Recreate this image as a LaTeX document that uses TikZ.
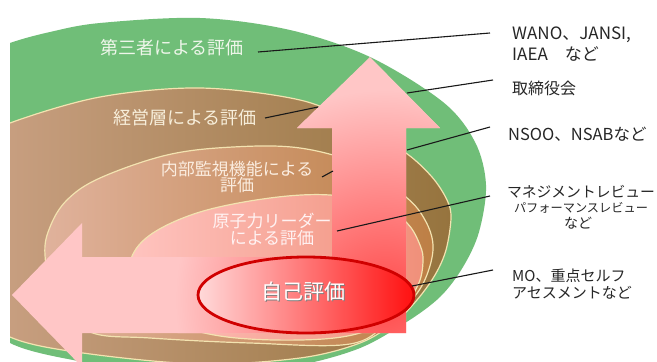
\documentclass[tikz,border=0pt]{standalone}
\usepackage{fontspec}
\setmainfont{Noto Sans CJK JP}
\definecolor{grn}{HTML}{70BE78}
\definecolor{brL}{HTML}{CFA58A}
\definecolor{brR}{HTML}{96743E}
\definecolor{mdL}{HTML}{E0B29C}
\definecolor{mdR}{HTML}{BD7F45}
\definecolor{pkL}{HTML}{FFC4C0}
\definecolor{pkR}{HTML}{F0907A}
\definecolor{cream}{HTML}{F3E3B0}
\definecolor{pinkA}{HTML}{FFC6C6}
\definecolor{redA}{HTML}{FF4A4A}
\definecolor{rL}{HTML}{FFDADA}
\definecolor{rR}{HTML}{FF1010}
\definecolor{rO}{HTML}{D00000}
\definecolor{txG}{HTML}{EEF6EA}
\definecolor{txB}{HTML}{F7EEDA}
\definecolor{txM}{HTML}{FBEDE0}
\definecolor{txP}{HTML}{FFF2F2}
\begin{document}
\begin{tikzpicture}[x=1pt,y=-1pt,
  ring/.style={draw=cream, line width=1.2pt},
  lead/.style={draw=black!90, line width=1.1pt},
  intext/.style={inner sep=0pt, align=center},
  rlabel/.style={inner sep=0pt, text=black!85, align=left, anchor=west}]
\useasboundingbox (0,0) rectangle (657,362);
\fill[white] (0,0) rectangle (657,362);
\begin{scope}
\clip (10,0) rectangle (657,362);
% outer green
\fill[grn] plot[smooth cycle, tension=0.55] coordinates {
 (-30,60) (10,43) (50,32) (100,23) (200,18) (290,30) (370,57) (443,102)
 (475,142) (486,185) (479,232) (463,267) (440,297) (405,323) (355,350)
 (280,368) (160,374) (83,362) (10,343) (-40,300) (-60,180)};
% brown
\path[ring, left color=brL, right color=brR] plot[smooth cycle, tension=0.55] coordinates {
 (-30,145) (10,123) (100,97) (200,88) (300,100) (360,125) (406,153) (432,177)
 (447,200) (451,218) (446,250) (435,275) (417,300) (395,322) (360,343)
 (300,358) (200,364) (83,353) (10,337) (-40,300) (-60,220)};
% internal monitoring
\path[ring, left color=mdL, right color=mdR] plot[smooth cycle, tension=0.6] coordinates {
 (45,255) (50,227) (67,200) (100,178) (167,155) (233,147) (300,148) (360,165)
 (406,197) (425,220) (433,245) (428,272) (415,296) (390,320) (350,344)
 (250,343) (150,338) (90,332) (55,300)};
% nuclear leader
\path[ring, left color=pkL, right color=pkR] plot[smooth cycle, tension=0.6] coordinates {
 (130,262) (150,235) (200,212) (270,198) (330,195) (380,205) (407,223)
 (420,245) (423,262) (418,285) (400,310) (360,333) (300,340) (220,336)
 (160,318) (135,292)};
% bent arrow
\fill[pinkA] (12,295) -- (82,223) -- (82,257) -- (332,257) -- (332,128) -- (297,128)
 -- (370,57) -- (440,128) -- (406,128) -- (406,333) -- (82,333) -- (82,367) -- cycle;
\begin{scope}
\clip (12,295) -- (82,223) -- (82,257) -- (332,257) -- (332,128) -- (297,128)
 -- (370,57) -- (440,128) -- (406,128) -- (406,333) -- (82,333) -- (82,367) -- cycle;
\shade[inner color=redA, outer color=pinkA] (385,300) circle (210pt);
\end{scope}
% self evaluation ellipse
\path[left color=rL, right color=rR, draw=rO, line width=2.8pt]
 (306,295) ellipse [x radius=108pt, y radius=38pt];
\end{scope}

% texts inside
\node[intext, text=txG, font=\fontsize{18}{20}\selectfont] (t1) at (172,48) {第三者による評価};
\node[intext, text=txB, font=\fontsize{18}{20}\selectfont] (t2) at (185,118) {経営層による評価};
\node[intext, text=txM, font=\fontsize{17}{15}\selectfont] (t3) at (237,177) {内部監視機能による\\評価};
\node[intext, text=txP, font=\fontsize{17}{17}\selectfont] (t4) at (272,229) {原子力リーダー\\による評価};
\node[intext, text=black!50, font=\fontsize{21}{22}\selectfont] (t5s) at (304,293) {自己評価};
\node[intext, text=white, font=\fontsize{21}{22}\selectfont] (t5) at (303,292) {自己評価};

% right labels
\node[rlabel, font=\fontsize{17}{21}\selectfont] (r1) at (512,44) {WANO、JANSI,\\IAEA　など};
\node[rlabel, font=\fontsize{16}{18}\selectfont] (r2) at (512,88) {取締役会};
\node[rlabel, font=\fontsize{16.5}{18}\selectfont] (r3) at (508,134) {NSOO、NSABなど};
\node[intext, text=black!85, font=\fontsize{14.8}{16}\selectfont] (r4a) at (581,192) {マネジメントレビュー};
\node[intext, text=black!85, font=\fontsize{12.2}{14}\selectfont] (r4b) at (581,208) {パフォーマンスレビュー};
\node[intext, text=black!85, font=\fontsize{14}{15}\selectfont] (r4c) at (578,223) {など};
\node[rlabel, font=\fontsize{15}{17}\selectfont] (r5) at (512,284) {MO、重点セルフ\\アセスメントなど};

% leader lines
\coordinate (a1) at (258,52);  \coordinate (a2) at (490,33);
\coordinate (b1) at (265,118); \coordinate (b2) at (318,107);
\coordinate (c1) at (322,177); \coordinate (c2) at (333,171);
\coordinate (d1) at (407,93);  \coordinate (d2) at (493,80);
\coordinate (e1) at (407,150); \coordinate (e2) at (490,127);
\coordinate (f1) at (337,231); \coordinate (f2) at (490,196);
\coordinate (g1) at (412,286); \coordinate (g2) at (493,270);
\draw[lead] (a1) -- (a2);
\draw[lead] (b1) -- (b2);
\draw[lead] (c1) -- (c2);
\draw[lead] (d1) -- (d2);
\draw[lead] (e1) -- (e2);
\draw[lead] (f1) -- (f2);
\draw[lead] (g1) -- (g2);
\end{tikzpicture}
\end{document}
